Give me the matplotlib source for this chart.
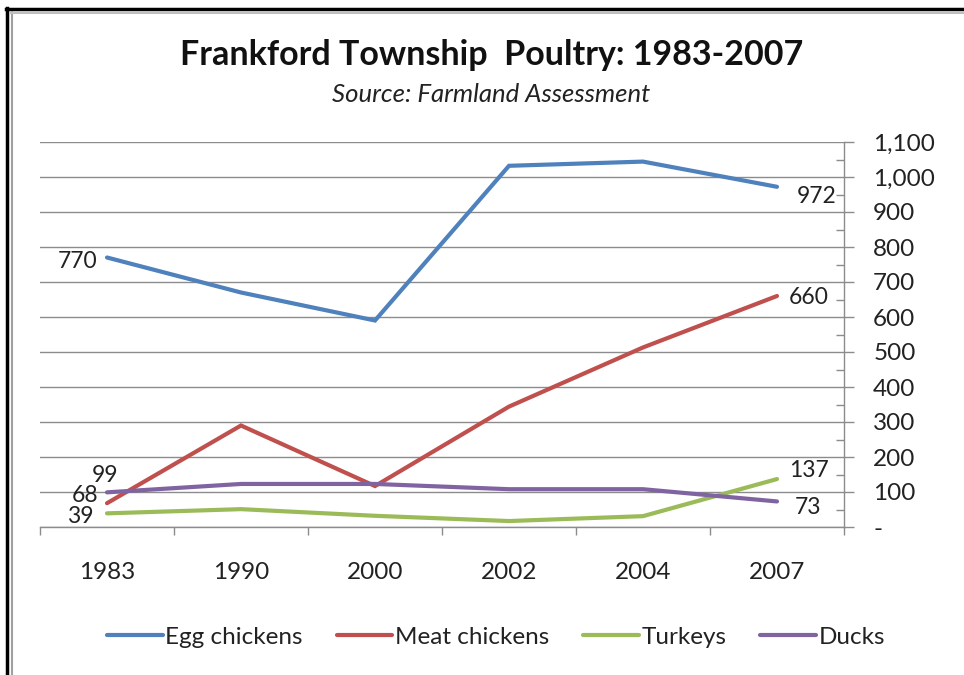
#!/usr/bin/env python3

import matplotlib
matplotlib.use("Agg")
import matplotlib.pyplot as plt
from matplotlib.lines import Line2D
from matplotlib.ticker import MultipleLocator

plt.rcParams["font.family"] = ["Lato", "DejaVu Sans"]

# ---- DATA ----
years = ["1983", "1990", "2000", "2002", "2004", "2007"]
egg_chickens = [770, 670, 590, 1032, 1044, 972]
meat_chickens = [68, 290, 117, 344, 513, 660]
turkeys = [39, 51, 32, 17, 31, 137]
ducks = [99, 123, 123, 108, 108, 73]

series_names = ["Egg chickens", "Meat chickens", "Turkeys", "Ducks"]
series_colors = ["#4F81BD", "#C0504D", "#9BBB59", "#8064A2"]

y_ticks = [0, 100, 200, 300, 400, 500, 600, 700, 800, 900, 1000, 1100]
y_tick_labels = ["-", "100", "200", "300", "400", "500", "600", "700", "800", "900", "1,000", "1,100"]

title = "Frankford Township  Poultry: 1983-2007"
subtitle = "Source: Farmland Assessment"

# ---- FIGURE ----
fig = plt.figure(figsize=(9.64, 6.75), dpi=100)
ax = fig.add_axes([40 / 964, 1 - 527 / 675, (844 - 40) / 964, (527 - 142) / 675])

x = list(range(len(years)))
all_series = [egg_chickens, meat_chickens, turkeys, ducks]
for vals, name, color in zip(all_series, series_names, series_colors):
    ax.plot(x, vals, color=color, linewidth=3.0, label=name,
            solid_joinstyle="miter", solid_capstyle="round")

ax.set_xlim(-0.5, len(years) - 0.5)
ax.set_ylim(0, 1100)

# y axis on the right
ax.yaxis.tick_right()
ax.set_yticks(y_ticks)
ax.set_yticklabels(y_tick_labels, ha="left")
ax.yaxis.set_minor_locator(MultipleLocator(50))
ax.tick_params(axis="y", which="major", direction="out", length=7, width=1,
               color="#8c8c8c", labelsize=17.5, pad=14, labelcolor="#222222")
ax.tick_params(axis="y", which="minor", direction="in", length=6, width=1,
               color="#8c8c8c")
ax.grid(axis="y", which="major", color="#8c8c8c", linewidth=1.0)
ax.set_axisbelow(True)

# category axis: ticks between categories
ax.set_xticks(x)
ax.set_xticklabels(years)
ax.set_xticks([i - 0.5 for i in range(len(years) + 1)], minor=True)
ax.tick_params(axis="x", which="major", length=0, labelsize=17.5, pad=25,
               labelcolor="#222222")
ax.tick_params(axis="x", which="minor", direction="out", length=6, width=1,
               color="#8c8c8c")

for side in ["left", "top"]:
    ax.spines[side].set_visible(False)
for side in ["right", "bottom"]:
    ax.spines[side].set_color("#8c8c8c")
    ax.spines[side].set_linewidth(1.0)

# ---- DATA LABELS ----
lab = dict(textcoords="offset pixels", fontsize=16.5, color="#222222", va="center")
ax.annotate(str(egg_chickens[0]), (0, egg_chickens[0]), xytext=(-10, -4), ha="right", **lab)
ax.annotate(str(ducks[0]), (0, ducks[0]), xytext=(-2, 17), ha="center", **lab)
ax.annotate(str(meat_chickens[0]), (0, meat_chickens[0]), xytext=(-9, 8), ha="right", **lab)
ax.annotate(str(turkeys[0]), (0, turkeys[0]), xytext=(-13, -3), ha="right", **lab)
ax.annotate(str(egg_chickens[-1]), (5, egg_chickens[-1]), xytext=(20, -10), ha="left", **lab)
ax.annotate(str(meat_chickens[-1]), (5, meat_chickens[-1]), xytext=(12, -2), ha="left", **lab)
ax.annotate(str(turkeys[-1]), (5, turkeys[-1]), xytext=(12, 9), ha="left", **lab)
ax.annotate(str(ducks[-1]), (5, ducks[-1]), xytext=(18, -6), ha="left", **lab)

# ---- TITLES ----
fig.text(0.51, 1 - 55 / 675, title, ha="center", va="center", fontsize=24.5,
         fontweight="bold", color="#111111")
fig.text(0.509, 1 - 94 / 675, subtitle, ha="center", va="center", fontsize=18.5,
         style="italic", color="#222222")

# ---- LEGEND ----
fig.legend(loc="center", bbox_to_anchor=(0.5145, 1 - 637 / 675), ncol=4,
           frameon=False, fontsize=17.5, handlelength=2.3, handletextpad=0.1,
           columnspacing=1.4, labelcolor="#222222")

# ---- FRAME ----
fig.add_artist(Line2D([7 / 964, 7 / 964], [0, 1 - 8 / 675], transform=fig.transFigure,
                      color="black", linewidth=2.5))
fig.add_artist(Line2D([6 / 964, 1], [1 - 9 / 675, 1 - 9 / 675], transform=fig.transFigure,
                      color="black", linewidth=2.5))
fig.add_artist(Line2D([11.5 / 964, 11.5 / 964], [0, 1 - 12 / 675], transform=fig.transFigure,
                      color="#a0a0a0", linewidth=1.5))
fig.add_artist(Line2D([11 / 964, 1], [1 - 12.5 / 675, 1 - 12.5 / 675], transform=fig.transFigure,
                      color="#c0c0c0", linewidth=1.5))

fig.savefig("out.png", dpi=100)
print("Saved: out.png")
